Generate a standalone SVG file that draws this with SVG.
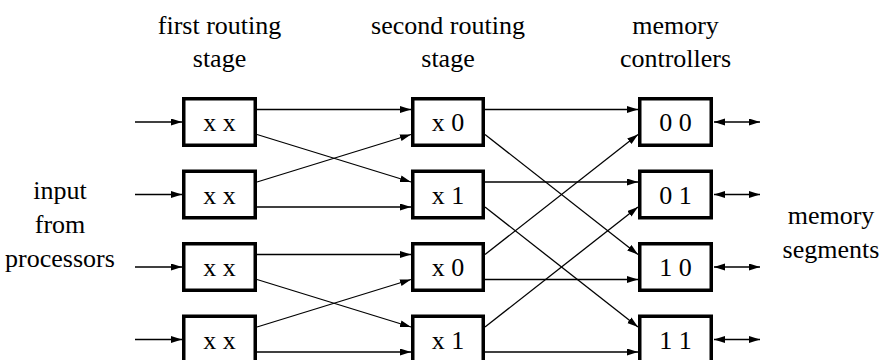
<svg xmlns="http://www.w3.org/2000/svg" width="883" height="360" viewBox="0 0 883 360">
<style>
text{font-family:"Liberation Serif",LiberationSerif,Tinos,"Times New Roman",Times,"Nimbus Roman","Noto Serif","DejaVu Serif",serif;font-size:26px;fill:#000;text-anchor:middle}
.box rect{fill:#fff;stroke:#000;stroke-width:3.5}
.c line{stroke:#000;stroke-width:1.3;fill:none}
</style>
<defs>
<marker id="ah" markerUnits="userSpaceOnUse" markerWidth="12" markerHeight="8" refX="11" refY="3.5" orient="auto-start-reverse">
<path d="M0,0 L11,3.5 L0,7 z" fill="#000"/>
</marker>
</defs>
<rect width="883" height="360" fill="#fff"/>
<g id="labels">
<text x="219.5" y="34">first routing</text>
<text x="219.5" y="67">stage</text>
<text x="448" y="34">second routing</text>
<text x="448" y="67">stage</text>
<text x="675.5" y="34">memory</text>
<text x="675.5" y="67">controllers</text>
<text x="60" y="199">input</text>
<text x="60" y="233">from</text>
<text x="60" y="267">processors</text>
<text x="831" y="224">memory</text>
<text x="831" y="258">segments</text>
</g>
<g class="c" id="connectors">
<line x1="135" y1="122" x2="182" y2="122" marker-end="url(#ah)"/>
<line x1="135" y1="194.5" x2="182" y2="194.5" marker-end="url(#ah)"/>
<line x1="135" y1="267" x2="182" y2="267" marker-end="url(#ah)"/>
<line x1="135" y1="339.5" x2="182" y2="339.5" marker-end="url(#ah)"/>
<line x1="257" y1="109.5" x2="411" y2="109.5" marker-end="url(#ah)"/>
<line x1="257" y1="134.5" x2="411" y2="182" marker-end="url(#ah)"/>
<line x1="257" y1="182" x2="411" y2="134.5" marker-end="url(#ah)"/>
<line x1="257" y1="207" x2="411" y2="207" marker-end="url(#ah)"/>
<line x1="257" y1="254.5" x2="411" y2="254.5" marker-end="url(#ah)"/>
<line x1="257" y1="279.5" x2="411" y2="327" marker-end="url(#ah)"/>
<line x1="257" y1="327" x2="411" y2="279.5" marker-end="url(#ah)"/>
<line x1="257" y1="352" x2="411" y2="352" marker-end="url(#ah)"/>
<line x1="485" y1="109.5" x2="638" y2="109.5" marker-end="url(#ah)"/>
<line x1="485" y1="134.5" x2="638" y2="254.5" marker-end="url(#ah)"/>
<line x1="485" y1="182" x2="638" y2="182" marker-end="url(#ah)"/>
<line x1="485" y1="207" x2="638" y2="327" marker-end="url(#ah)"/>
<line x1="485" y1="254.5" x2="638" y2="134.5" marker-end="url(#ah)"/>
<line x1="485" y1="279.5" x2="638" y2="279.5" marker-end="url(#ah)"/>
<line x1="485" y1="327" x2="638" y2="207" marker-end="url(#ah)"/>
<line x1="485" y1="352" x2="638" y2="352" marker-end="url(#ah)"/>
<line x1="714" y1="122" x2="760" y2="122" marker-start="url(#ah)" marker-end="url(#ah)"/>
<line x1="714" y1="194.5" x2="760" y2="194.5" marker-start="url(#ah)" marker-end="url(#ah)"/>
<line x1="714" y1="267" x2="760" y2="267" marker-start="url(#ah)" marker-end="url(#ah)"/>
<line x1="714" y1="339.5" x2="760" y2="339.5" marker-start="url(#ah)" marker-end="url(#ah)"/>
</g>
<g class="box" id="s1r1"><rect x="183.75" y="98.75" width="71.5" height="46.5"/><text x="219.5" y="131">x x</text></g>
<g class="box" id="s1r2"><rect x="183.75" y="171.25" width="71.5" height="46.5"/><text x="219.5" y="203.5">x x</text></g>
<g class="box" id="s1r3"><rect x="183.75" y="243.75" width="71.5" height="46.5"/><text x="219.5" y="276">x x</text></g>
<g class="box" id="s1r4"><rect x="183.75" y="316.25" width="71.5" height="46.5"/><text x="219.5" y="348.5">x x</text></g>
<g class="box" id="s2r1"><rect x="412.75" y="98.75" width="70.5" height="46.5"/><text x="448" y="131">x 0</text></g>
<g class="box" id="s2r2"><rect x="412.75" y="171.25" width="70.5" height="46.5"/><text x="448" y="203.5">x 1</text></g>
<g class="box" id="s2r3"><rect x="412.75" y="243.75" width="70.5" height="46.5"/><text x="448" y="276">x 0</text></g>
<g class="box" id="s2r4"><rect x="412.75" y="316.25" width="70.5" height="46.5"/><text x="448" y="348.5">x 1</text></g>
<g class="box" id="m00"><rect x="639.75" y="98.75" width="71.5" height="46.5"/><text x="675.5" y="131">0 0</text></g>
<g class="box" id="m01"><rect x="639.75" y="171.25" width="71.5" height="46.5"/><text x="675.5" y="203.5">0 1</text></g>
<g class="box" id="m10"><rect x="639.75" y="243.75" width="71.5" height="46.5"/><text x="675.5" y="276">1 0</text></g>
<g class="box" id="m11"><rect x="639.75" y="316.25" width="71.5" height="46.5"/><text x="675.5" y="348.5">1 1</text></g>
</svg>
